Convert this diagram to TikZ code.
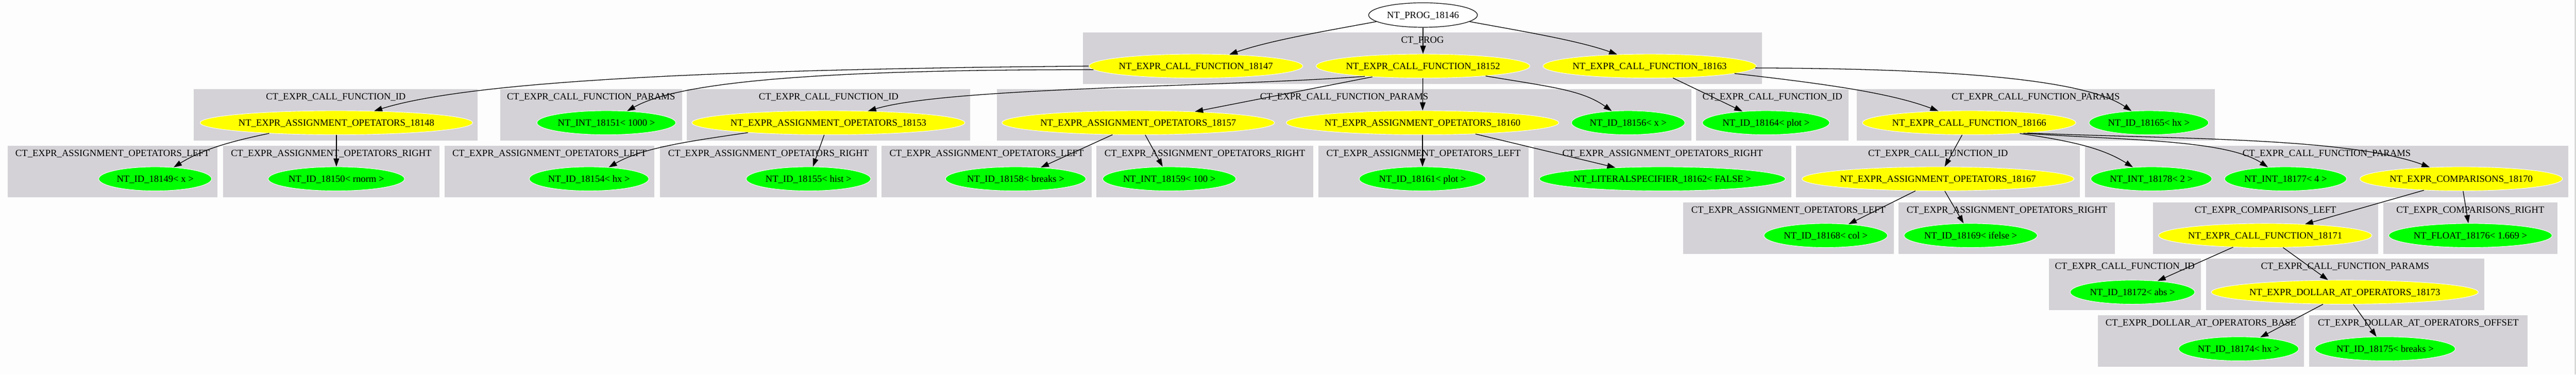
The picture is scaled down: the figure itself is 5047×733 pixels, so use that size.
\documentclass[tikz,border=0pt]{standalone}
\usepackage{fontspec}
\setmainfont{Liberation Serif}
\usetikzlibrary{shapes.geometric,arrows.meta}
\definecolor{bgc}{HTML}{FCFDFC}
\definecolor{clgray}{HTML}{D4D2D6}
\definecolor{ylwc}{HTML}{FFFF00}
\definecolor{grnc}{HTML}{00FF00}
\definecolor{rimgray}{HTML}{A8A8A8}
\newcommand{\ntx}[1]{\makebox[0pt]{#1}}
\begin{document}
\begin{tikzpicture}[x=1pt,y=-1pt,font=\fontsize{18.8}{22}\selectfont,
  clbox/.style={fill=clgray},
  cllab/.style={inner sep=0pt,text height=12.5pt,text depth=0pt},
  ell/.style={ellipse,inner sep=0pt,minimum height=47,text height=12.5pt,text depth=0pt,draw=white,line width=0.9pt},
  ylw/.style={ell,fill=ylwc},
  grn/.style={ell,fill=grnc},
  conn/.style={draw=black,line width=1.3pt,-{Triangle[length=16pt,width=11pt]}}]
\fill[bgc] (0,0) rectangle (5047,733);
\draw[rimgray,line width=1pt] (5045.5,0) -- (5045.5,733);
% clusters
\fill[clbox] (2122,63) rectangle (3452,164);
\node[cllab] (lprog) at (2787,78) {CT\_PROG};
\fill[clbox] (380,174) rectangle (936,275);
\node[cllab] (l2a) at (658,189) {CT\_EXPR\_CALL\_FUNCTION\_ID};
\fill[clbox] (980,174) rectangle (1336,275);
\node[cllab] (l2b) at (1158,189) {CT\_EXPR\_CALL\_FUNCTION\_PARAMS};
\fill[clbox] (1346,174) rectangle (1901,275);
\node[cllab] (l2c) at (1623.5,189) {CT\_EXPR\_CALL\_FUNCTION\_ID};
\fill[clbox] (1953,174) rectangle (3314,275);
\node[cllab] (l2d) at (2633.5,189) {CT\_EXPR\_CALL\_FUNCTION\_PARAMS};
\fill[clbox] (3323,174) rectangle (3622,275);
\node[cllab] (l2e) at (3472.5,189) {CT\_EXPR\_CALL\_FUNCTION\_ID};
\fill[clbox] (3638,174) rectangle (4339,275);
\node[cllab] (l2f) at (3988.5,189) {CT\_EXPR\_CALL\_FUNCTION\_PARAMS};
\fill[clbox] (15,285) rectangle (426,386);
\node[cllab] (l3a) at (220.5,300) {CT\_EXPR\_ASSIGNMENT\_OPETATORS\_LEFT};
\fill[clbox] (437,285) rectangle (861,386);
\node[cllab] (l3b) at (649,300) {CT\_EXPR\_ASSIGNMENT\_OPETATORS\_RIGHT};
\fill[clbox] (871,285) rectangle (1282,386);
\node[cllab] (l3c) at (1076.5,300) {CT\_EXPR\_ASSIGNMENT\_OPETATORS\_LEFT};
\fill[clbox] (1293,285) rectangle (1718,386);
\node[cllab] (l3d) at (1505.5,300) {CT\_EXPR\_ASSIGNMENT\_OPETATORS\_RIGHT};
\fill[clbox] (1727,285) rectangle (2139,386);
\node[cllab] (l3e) at (1933,300) {CT\_EXPR\_ASSIGNMENT\_OPETATORS\_LEFT};
\fill[clbox] (2148,285) rectangle (2573,386);
\node[cllab] (l3f) at (2360.5,300) {CT\_EXPR\_ASSIGNMENT\_OPETATORS\_RIGHT};
\fill[clbox] (2583,285) rectangle (2995,386);
\node[cllab] (l3g) at (2789,300) {CT\_EXPR\_ASSIGNMENT\_OPETATORS\_LEFT};
\fill[clbox] (3005,285) rectangle (3510,386);
\node[cllab] (l3h) at (3257.5,300) {CT\_EXPR\_ASSIGNMENT\_OPETATORS\_RIGHT};
\fill[clbox] (3519,285) rectangle (4075,386);
\node[cllab] (l3i) at (3797,300) {CT\_EXPR\_CALL\_FUNCTION\_ID};
\fill[clbox] (4085,285) rectangle (5032,386);
\node[cllab] (l3j) at (4558.5,300) {CT\_EXPR\_CALL\_FUNCTION\_PARAMS};
\fill[clbox] (3298,396) rectangle (3710,497);
\node[cllab] (l4a) at (3504,411) {CT\_EXPR\_ASSIGNMENT\_OPETATORS\_LEFT};
\fill[clbox] (3720,396) rectangle (4144,497);
\node[cllab] (l4b) at (3932,411) {CT\_EXPR\_ASSIGNMENT\_OPETATORS\_RIGHT};
\fill[clbox] (4218,396) rectangle (4659,497);
\node[cllab] (l4c) at (4438.5,411) {CT\_EXPR\_COMPARISONS\_LEFT};
\fill[clbox] (4669,396) rectangle (5011,497);
\node[cllab] (l4d) at (4840,411) {CT\_EXPR\_COMPARISONS\_RIGHT};
\fill[clbox] (4014,506) rectangle (4312,607);
\node[cllab] (l5a) at (4163,521) {CT\_EXPR\_CALL\_FUNCTION\_ID};
\fill[clbox] (4322,506) rectangle (4867,607);
\node[cllab] (l5b) at (4594.5,521) {CT\_EXPR\_CALL\_FUNCTION\_PARAMS};
\fill[clbox] (4110,617) rectangle (4514,718);
\node[cllab] (l6a) at (4312,632) {CT\_EXPR\_DOLLAR\_AT\_OPERATORS\_BASE};
\fill[clbox] (4524,617) rectangle (4952,718);
\node[cllab] (l6b) at (4738,632) {CT\_EXPR\_DOLLAR\_AT\_OPERATORS\_OFFSET};
% nodes
\node[ell,fill=white,draw=black,line width=1.2pt,minimum width=213,minimum height=48] (prog) at (2788,29) {\ntx{NT\_PROG\_18146}};
\node[ylw,minimum width=419] (n18147) at (2343,129) {\ntx{NT\_EXPR\_CALL\_FUNCTION\_18147}};
\node[ylw,minimum width=419] (n18152) at (2788,129) {\ntx{NT\_EXPR\_CALL\_FUNCTION\_18152}};
\node[ylw,minimum width=418] (n18163) at (3232,129) {\ntx{NT\_EXPR\_CALL\_FUNCTION\_18163}};
\node[ylw,minimum width=534] (n18148) at (659,240) {\ntx{NT\_EXPR\_ASSIGNMENT\_OPETATORS\_18148}};
\node[grn,minimum width=272] (n18151) at (1188,240) {\ntx{NT\_INT\_18151< 1000 >}};
\node[ylw,minimum width=535] (n18153) at (1623,240) {\ntx{NT\_EXPR\_ASSIGNMENT\_OPETATORS\_18153}};
\node[ylw,minimum width=534] (n18157) at (2230,240) {\ntx{NT\_EXPR\_ASSIGNMENT\_OPETATORS\_18157}};
\node[ylw,minimum width=534] (n18160) at (2787,240) {\ntx{NT\_EXPR\_ASSIGNMENT\_OPETATORS\_18160}};
\node[grn,minimum width=222] (n18156) at (3190,240) {\ntx{NT\_ID\_18156< x >}};
\node[grn,minimum width=249] (n18164) at (3460,240) {\ntx{NT\_ID\_18164< plot >}};
\node[ylw,minimum width=418] (n18166) at (3858,240) {\ntx{NT\_EXPR\_CALL\_FUNCTION\_18166}};
\node[grn,minimum width=234] (n18165) at (4210,240) {\ntx{NT\_ID\_18165< hx >}};
\node[grn,minimum width=221] (n18149) at (304,350) {\ntx{NT\_ID\_18149< x >}};
\node[grn,minimum width=267] (n18150) at (659,350) {\ntx{NT\_ID\_18150< rnorm >}};
\node[grn,minimum width=234] (n18154) at (1154,350) {\ntx{NT\_ID\_18154< hx >}};
\node[grn,minimum width=244] (n18155) at (1584,350) {\ntx{NT\_ID\_18155< hist >}};
\node[grn,minimum width=275] (n18158) at (1990,350) {\ntx{NT\_ID\_18158< breaks >}};
\node[grn,minimum width=261] (n18159) at (2291,350) {\ntx{NT\_INT\_18159< 100 >}};
\node[grn,minimum width=248] (n18161) at (2787,350) {\ntx{NT\_ID\_18161< plot >}};
\node[grn,minimum width=482] (n18162) at (3257,350) {\ntx{NT\_LITERALSPECIFIER\_18162< FALSE >}};
\node[ylw,minimum width=533] (n18167) at (3797,350) {\ntx{NT\_EXPR\_ASSIGNMENT\_OPETATORS\_18167}};
\node[grn,minimum width=237] (n18178) at (4215,350) {\ntx{NT\_INT\_18178< 2 >}};
\node[grn,minimum width=239] (n18177) at (4478,350) {\ntx{NT\_INT\_18177< 4 >}};
\node[ylw,minimum width=397] (n18170) at (4822,350) {\ntx{NT\_EXPR\_COMPARISONS\_18170}};
\node[grn,minimum width=242] (n18168) at (3577,461) {\ntx{NT\_ID\_18168< col >}};
\node[grn,minimum width=261] (n18169) at (3861,461) {\ntx{NT\_ID\_18169< ifelse >}};
\node[ylw,minimum width=418] (n18171) at (4438,461) {\ntx{NT\_EXPR\_CALL\_FUNCTION\_18171}};
\node[grn,minimum width=320] (n18176) at (4840,461) {\ntx{NT\_FLOAT\_18176< 1.669 >}};
\node[grn,minimum width=244] (n18172) at (4178,572) {\ntx{NT\_ID\_18172< abs >}};
\node[ylw,minimum width=523] (n18173) at (4594,572) {\ntx{NT\_EXPR\_DOLLAR\_AT\_OPERATORS\_18173}};
\node[grn,minimum width=235] (n18174) at (4386,683) {\ntx{NT\_ID\_18174< hx >}};
\node[grn,minimum width=275] (n18175) at (4673,683) {\ntx{NT\_ID\_18175< breaks >}};
% edges
\draw[conn] (prog.188) .. controls (2610,58) and (2490,78) .. (n18147);
\draw[conn] (prog) -- (n18152);
\draw[conn] (prog.352) .. controls (2966,58) and (3090,78) .. (n18163);
\draw[conn] (n18147.180) .. controls (1300,136) and (900,165) .. (n18148);
\draw[conn] (n18147.182) .. controls (1600,136) and (1330,160) .. (n18151);
\draw[conn] (n18152.190) .. controls (2400,170) and (1860,170) .. (n18153);
\draw[conn] (n18152.192) -- (n18157);
\draw[conn] (n18152) -- (n18160);
\draw[conn] (n18152.351) .. controls (3040,170) and (3100,176) .. (n18156);
\draw[conn] (n18163.333) -- (n18164);
\draw[conn] (n18163.355) .. controls (3560,162) and (3700,180) .. (n18166);
\draw[conn] (n18163.359) .. controls (3800,134) and (4080,152) .. (n18165);
\draw[conn] (n18148.189) .. controls (460,275) and (400,290) .. (n18149);
\draw[conn] (n18148) -- (n18150);
\draw[conn] (n18153.187) .. controls (1360,275) and (1260,288) .. (n18154);
\draw[conn] (n18153.251) -- (n18155);
\draw[conn] (n18157.205) -- (n18158);
\draw[conn] (n18157.300) -- (n18159);
\draw[conn] (n18160) -- (n18161);
\draw[conn] (n18160.348) -- (n18162);
\draw[conn] (n18166.240) -- (n18167);
\draw[conn] (n18166.348) .. controls (4060,276) and (4120,290) .. (n18178);
\draw[conn] (n18166.349) .. controls (4150,274) and (4360,272) .. (n18177);
\draw[conn] (n18166.350) .. controls (4250,272) and (4600,268) .. (n18170);
\draw[conn] (n18167.208) -- (n18168);
\draw[conn] (n18167.299) -- (n18169);
\draw[conn] (n18170.197) -- (n18171);
\draw[conn] (n18170.279) -- (n18176);
\draw[conn] (n18171.200) -- (n18172);
\draw[conn] (n18171.326) -- (n18173);
\draw[conn] (n18173.209) -- (n18174);
\draw[conn] (n18173.305) -- (n18175);
\end{tikzpicture}
\end{document}
